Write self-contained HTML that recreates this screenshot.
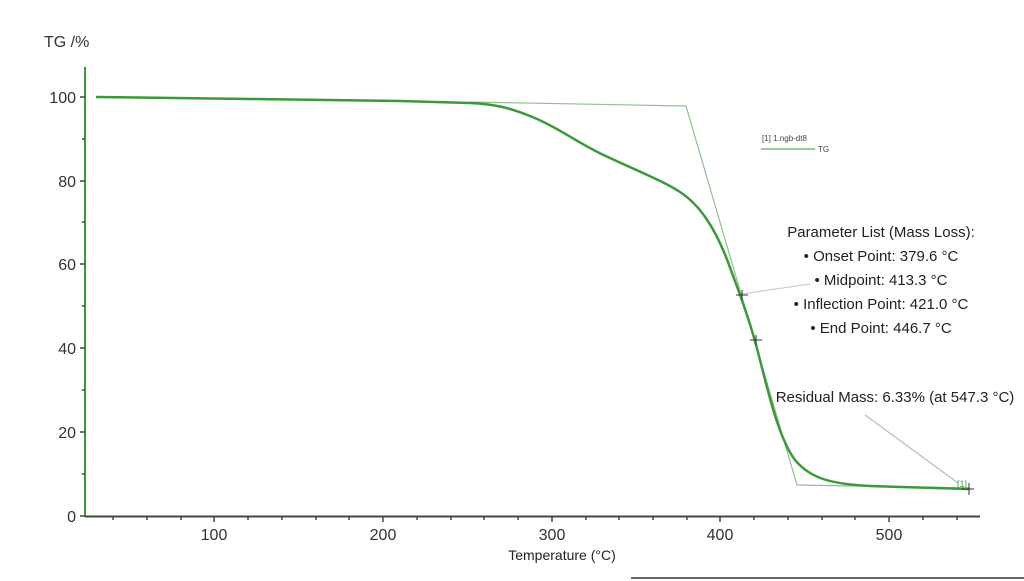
<!DOCTYPE html>
<html><head><meta charset="utf-8"><style>
html,body{margin:0;padding:0;background:#fff;}
svg{display:block;}
</style></head><body>
<svg width="1024" height="581" viewBox="0 0 1024 581" xmlns="http://www.w3.org/2000/svg" font-family="Liberation Sans, sans-serif">
<rect width="1024" height="581" fill="#fff"/>
<text x="44" y="47" font-size="16" fill="#333">TG /%</text>
<!-- y axis -->
<line x1="85" y1="67" x2="85" y2="517" stroke="#3a9a3a" stroke-width="2"/>
<g stroke="#444" stroke-width="1.5">
<line x1="80" y1="97" x2="85" y2="97"/><line x1="80" y1="181" x2="85" y2="181"/><line x1="80" y1="264" x2="85" y2="264"/><line x1="80" y1="348" x2="85" y2="348"/><line x1="80" y1="432" x2="85" y2="432"/><line x1="80" y1="516" x2="85" y2="516"/>
<line x1="82" y1="139" x2="85" y2="139"/><line x1="82" y1="222" x2="85" y2="222"/><line x1="82" y1="306" x2="85" y2="306"/><line x1="82" y1="390" x2="85" y2="390"/><line x1="82" y1="474" x2="85" y2="474"/>
</g>
<g font-size="16" fill="#333" text-anchor="end">
<text x="76" y="103">100</text><text x="76" y="187">80</text><text x="76" y="270">60</text><text x="76" y="354">40</text><text x="76" y="438">20</text><text x="76" y="522">0</text>
</g>
<!-- x axis -->
<line x1="85" y1="516.5" x2="980" y2="516.5" stroke="#444" stroke-width="2"/>
<g stroke="#444" stroke-width="1.5">
<line x1="113" y1="516" x2="113" y2="520"/><line x1="147" y1="516" x2="147" y2="520"/><line x1="181" y1="516" x2="181" y2="520"/><line x1="214" y1="516" x2="214" y2="522"/><line x1="248" y1="516" x2="248" y2="520"/><line x1="282" y1="516" x2="282" y2="520"/><line x1="316" y1="516" x2="316" y2="520"/><line x1="349" y1="516" x2="349" y2="520"/><line x1="383" y1="516" x2="383" y2="522"/><line x1="417" y1="516" x2="417" y2="520"/><line x1="451" y1="516" x2="451" y2="520"/><line x1="484" y1="516" x2="484" y2="520"/><line x1="518" y1="516" x2="518" y2="520"/><line x1="552" y1="516" x2="552" y2="522"/><line x1="586" y1="516" x2="586" y2="520"/><line x1="619" y1="516" x2="619" y2="520"/><line x1="653" y1="516" x2="653" y2="520"/><line x1="687" y1="516" x2="687" y2="520"/><line x1="720" y1="516" x2="720" y2="522"/><line x1="754" y1="516" x2="754" y2="520"/><line x1="788" y1="516" x2="788" y2="520"/><line x1="822" y1="516" x2="822" y2="520"/><line x1="855" y1="516" x2="855" y2="520"/><line x1="889" y1="516" x2="889" y2="522"/><line x1="923" y1="516" x2="923" y2="520"/><line x1="957" y1="516" x2="957" y2="520"/>
</g>
<g font-size="16" fill="#333" text-anchor="middle">
<text x="214" y="540">100</text><text x="383" y="540">200</text><text x="552" y="540">300</text><text x="720" y="540">400</text><text x="889" y="540">500</text>
</g>
<text x="562" y="560" font-size="14" fill="#222" text-anchor="middle">Temperature (°C)</text>
<line x1="631" y1="578" x2="1024" y2="578" stroke="#333" stroke-width="1.5"/>
<!-- tangent lines -->
<polyline points="470,102 686,106 797,485 969,488" fill="none" stroke="#8fbf8f" stroke-width="1.2"/>
<line x1="742" y1="294" x2="810" y2="284" stroke="#ccc" stroke-width="1.2"/>
<line x1="865" y1="415" x2="958" y2="483" stroke="#bbb" stroke-width="1.2"/>
<!-- curve -->
<path d="M96,97 L250,99 L400,101 L470,103 C495,104 510,108 530,116 C560,128 580,145 610,158 C640,172 665,182 680,192 C700,205 715,228 728,262 C740,295 750,320 760,360 C770,400 780,440 795,460 C810,478 830,484 870,486 L969,489" fill="none" stroke="#3a9a3a" stroke-width="2.5"/>
<!-- markers -->
<g stroke="#333" stroke-width="1">
<line x1="736" y1="295" x2="748" y2="295"/><line x1="742" y1="290" x2="742" y2="300"/>
<line x1="750" y1="340" x2="762" y2="340"/><line x1="756" y1="335" x2="756" y2="345"/>
<line x1="962" y1="489" x2="974" y2="489"/><line x1="969" y1="483" x2="969" y2="495"/>
</g>
<text x="957" y="487" font-size="9" fill="#3a9a3a">[1]</text>
<!-- legend -->
<text x="762" y="141" font-size="8" fill="#444">[1]  1.ngb-dt8</text>
<line x1="761" y1="149" x2="815" y2="149" stroke="#3a9a3a" stroke-width="1"/>
<text x="818" y="152" font-size="8" fill="#444">TG</text>
<!-- param list -->
<g font-size="15" fill="#222" text-anchor="middle">
<text x="881" y="237">Parameter List (Mass Loss):</text>
<text x="881" y="261">• Onset Point: 379.6 °C</text>
<text x="881" y="285">• Midpoint: 413.3 °C</text>
<text x="881" y="309">• Inflection Point: 421.0 °C</text>
<text x="881" y="333">• End Point: 446.7 °C</text>
<text x="895" y="402">Residual Mass: 6.33% (at 547.3 °C)</text>
</g>
</svg>
</body></html>
